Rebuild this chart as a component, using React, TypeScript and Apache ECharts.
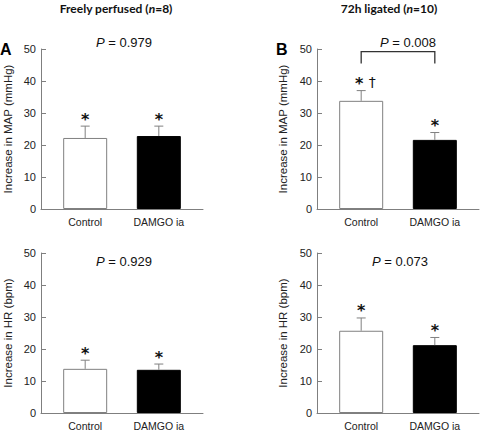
import React, { useEffect, useRef } from "react";
import * as echarts from "echarts";

const categories = ["Control", "DAMGO ia"];
const yTicks = [0, 10, 20, 30, 40, 50];

const mapFreeMean = [22.2, 22.8];
const mapFreeErr = [3.7, 3.1];
const mapLigMean = [33.8, 21.6];
const mapLigErr = [3.2, 2.3];
const hrFreeMean = [13.8, 13.5];
const hrFreeErr = [2.7, 1.8];
const hrLigMean = [25.7, 21.2];
const hrLigErr = [4.0, 2.4];

const daggerLig = [1, 0];
const pValues = ["0.979", "0.008", "0.929", "0.073"];
const bracketLevels = [45.5, 49.2];

const panelTitles = ["Freely perfused ({i|n}=8)", "72h ligated ({i|n}=10)"];
const yNames = ["Increase in MAP (mmHg)", "Increase in HR (bpm)"];

const AX = "#7f7f7f";
const TXT = "#222";
const FONT = "Liberation Sans";

const grids = [
  { left: 41, top: 49, width: 162, height: 160 },
  { left: 317, top: 49, width: 162, height: 160 },
  { left: 41, top: 253, width: 162, height: 161 },
  { left: 317, top: 253, width: 162, height: 161 },
];

function xAxisFor(i: number) {
  return {
    type: "value",
    gridIndex: i,
    min: 0.4,
    max: 2.6,
    splitLine: { show: false },
    axisLine: { show: true, lineStyle: { color: AX, width: 1 } },
    axisTick: { show: true, inside: true, length: 3, customValues: [1, 2], lineStyle: { color: AX } },
    axisLabel: {
      show: true,
      customValues: [1, 2],
      formatter: (v: number) => categories[Math.round(v) - 1] ?? "",
      fontSize: 10.5,
      fontFamily: FONT,
      color: TXT,
      margin: 7,
    },
  };
}

function yAxisFor(i: number) {
  return {
    type: "value",
    gridIndex: i,
    min: yTicks[0],
    max: yTicks[yTicks.length - 1],
    interval: 10,
    splitLine: { show: false },
    axisLine: { show: true, lineStyle: { color: AX, width: 1 } },
    axisTick: { show: true, inside: true, length: 5, lineStyle: { color: AX } },
    axisLabel: { fontSize: 11, fontFamily: FONT, color: TXT, margin: 5 },
  };
}

function barSeries(i: number, means: number[]) {
  return {
    type: "bar",
    xAxisIndex: i,
    yAxisIndex: i,
    barWidth: 44,
    data: means.map((m, k) => ({
      value: [k + 1, m],
      itemStyle: k === 0
        ? { color: "#ffffff", borderColor: "#808080", borderWidth: 1 }
        : { color: "#000000", borderColor: "#000000", borderWidth: 1 },
    })),
  };
}

function errSeries(i: number, means: number[], errs: number[], daggers?: number[]) {
  return {
    type: "custom",
    xAxisIndex: i,
    yAxisIndex: i,
    clip: false,
    silent: true,
    z: 5,
    data: means.map((m, k) => [k + 1, m, errs[k], daggers ? daggers[k] : 0]),
    renderItem: (params: any, api: any) => {
      const x = api.value(0);
      const m = api.value(1);
      const e = api.value(2);
      const d = api.value(3);
      const b = api.coord([x, m]);
      const t = api.coord([x, m + e]);
      const children: any[] = [
        { type: "line", shape: { x1: b[0], y1: b[1], x2: t[0], y2: t[1] }, style: { stroke: "#808080", lineWidth: 1 } },
        { type: "line", shape: { x1: t[0] - 4.5, y1: t[1], x2: t[0] + 4.5, y2: t[1] }, style: { stroke: "#808080", lineWidth: 1 } },
        {
          type: "text",
          x: t[0] + (d ? -2 : 0),
          y: t[1] - 7,
          style: { text: "*", font: `bold 16px "DejaVu Sans"`, fill: "#111", align: "center", verticalAlign: "middle" },
        },
      ];
      if (d) {
        children.push({
          type: "text",
          x: t[0] + 11,
          y: t[1] - 8.5,
          style: { text: "†", font: `14px "DejaVu Sans"`, fill: "#111111", align: "center", verticalAlign: "middle" },
        });
      }
      return { type: "group", children };
    },
  };
}

function bracketSeries(i: number) {
  return {
    type: "custom",
    xAxisIndex: i,
    yAxisIndex: i,
    clip: false,
    silent: true,
    z: 6,
    data: [[1, 2, bracketLevels[0], bracketLevels[1]]],
    renderItem: (params: any, api: any) => {
      const a = api.coord([api.value(0), api.value(2)]);
      const b = api.coord([api.value(0), api.value(3)]);
      const c = api.coord([api.value(1), api.value(3)]);
      const d = api.coord([api.value(1), api.value(2)]);
      return {
        type: "polyline",
        shape: { points: [a, b, c, d] },
        style: { stroke: "#333", lineWidth: 1.3, fill: null },
      };
    },
  };
}

function pText(x: number, y: number, val: string, align: string) {
  return {
    type: "text",
    x,
    y,
    style: {
      text: `{i|P} = ${val}`,
      font: `13px "${FONT}"`,
      fill: "#111",
      align,
      verticalAlign: "middle",
      rich: { i: { fontStyle: "italic", fontSize: 13, fontFamily: FONT, fill: "#111" } },
    },
  };
}

function yName(x: number, y: number, text: string) {
  return {
    type: "text",
    x,
    y,
    rotation: Math.PI / 2,
    style: { text, font: `11.5px "${FONT}"`, fill: TXT, align: "center", verticalAlign: "middle" },
  };
}

function titleText(x: number, text: string) {
  return {
    type: "text",
    x,
    y: 8,
    style: {
      text,
      font: `bold 12px Lato`,
      fill: "#111",
      align: "center",
      verticalAlign: "middle",
      rich: { i: { fontStyle: "italic", fontWeight: "bold", fontSize: 12, fontFamily: "Lato", fill: "#111" } },
    },
  };
}

export default function App() {
  const ref = useRef<HTMLDivElement>(null);
  useEffect(() => {
    if (!ref.current) return;
    const chart = echarts.init(ref.current, null, { renderer: "svg" });
    chart.setOption({
      animation: false,
      backgroundColor: "#ffffff",
      grid: grids,
      xAxis: [0, 1, 2, 3].map(xAxisFor),
      yAxis: [0, 1, 2, 3].map(yAxisFor),
      series: [
        barSeries(0, mapFreeMean),
        barSeries(1, mapLigMean),
        barSeries(2, hrFreeMean),
        barSeries(3, hrLigMean),
        errSeries(0, mapFreeMean, mapFreeErr),
        errSeries(1, mapLigMean, mapLigErr, daggerLig),
        errSeries(2, hrFreeMean, hrFreeErr),
        errSeries(3, hrLigMean, hrLigErr),
        bracketSeries(1),
      ],
      graphic: [
        titleText(116, panelTitles[0]),
        titleText(389, panelTitles[1]),
        { type: "text", x: 0, y: 49, style: { text: "A", font: `bold 16px "${FONT}"`, fill: "#000", align: "left", verticalAlign: "middle" } },
        { type: "text", x: 276, y: 49, style: { text: "B", font: `bold 16px "${FONT}"`, fill: "#000", align: "left", verticalAlign: "middle" } },
        pText(124, 42, pValues[0], "center"),
        pText(436, 42, pValues[1], "right"),
        pText(124, 261, pValues[2], "center"),
        pText(400, 261, pValues[3], "center"),
        yName(7.5, 129, yNames[0]),
        yName(283, 129, yNames[0]),
        yName(7.5, 333, yNames[1]),
        yName(283, 333, yNames[1]),
      ],
    });
    return () => chart.dispose();
  }, []);
  return <div ref={ref} style={{ position: "absolute", left: 0, top: 0, width: 480, height: 431 }} />;
}
